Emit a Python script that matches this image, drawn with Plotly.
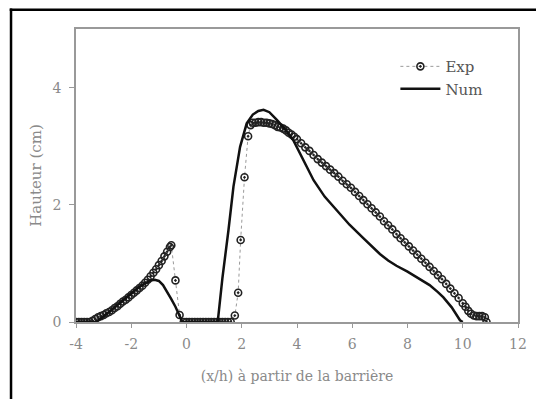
import plotly.graph_objects as go

# Experimental data (Exp)
exp_x = [-4.0, -3.9, -3.8, -3.7, -3.6, -3.5, -3.4, -3.3, -3.2, -3.1, -3.0, -2.9, -2.8, -2.7,
         -2.6, -2.5, -2.4, -2.3, -2.2, -2.1, -2.0, -1.9, -1.8, -1.7, -1.6, -1.5, -1.4, -1.3,
         -1.2, -1.1, -1.0, -0.9, -0.8, -0.7, -0.6, -0.55, -0.4, -0.25, -0.1,
         0.0, 0.1, 0.2, 0.3, 0.4, 0.5, 0.6, 0.7, 0.8, 0.9, 1.0, 1.1, 1.2, 1.3, 1.4, 1.5, 1.6,
         1.75, 1.87, 1.96, 2.1, 2.23, 2.32, 2.4, 2.5, 2.6, 2.7, 2.8, 2.9, 3.0, 3.1, 3.2, 3.3,
         3.4, 3.5, 3.6, 3.7, 3.8, 3.9, 4.0, 4.15, 4.3, 4.45, 4.6, 4.75, 4.9, 5.05, 5.2, 5.35,
         5.5, 5.65, 5.8, 5.95, 6.1, 6.25, 6.4, 6.55, 6.7, 6.85, 7.0, 7.15, 7.3, 7.45, 7.6,
         7.75, 7.9, 8.05, 8.2, 8.35, 8.5, 8.65, 8.8, 8.95, 9.1, 9.25, 9.4, 9.55, 9.7, 9.85,
         10.0, 10.1, 10.2, 10.3, 10.4, 10.5, 10.6, 10.7, 10.8, 10.86]
exp_y = [0, 0, 0, 0, 0, 0, 0.02, 0.05, 0.08, 0.1, 0.12, 0.15, 0.17, 0.2,
         0.24, 0.27, 0.31, 0.35, 0.38, 0.42, 0.46, 0.5, 0.54, 0.58, 0.62, 0.67, 0.72, 0.78,
         0.84, 0.9, 0.97, 1.04, 1.12, 1.2, 1.28, 1.31, 0.71, 0.12, 0,
         0, 0, 0, 0, 0, 0, 0, 0, 0, 0, 0, 0, 0, 0, 0, 0, 0,
         0.11, 0.5, 1.4, 2.47, 3.17, 3.36, 3.4, 3.4, 3.41, 3.41, 3.4, 3.4, 3.39, 3.38, 3.36, 3.33,
         3.32, 3.3, 3.27, 3.23, 3.2, 3.16, 3.12, 3.05, 2.98, 2.92, 2.85, 2.78, 2.72, 2.66, 2.6, 2.54,
         2.48, 2.41, 2.35, 2.29, 2.22, 2.15, 2.08, 2.01, 1.94, 1.87, 1.8, 1.72, 1.65, 1.58, 1.5,
         1.43, 1.36, 1.29, 1.22, 1.15, 1.08, 1.01, 0.94, 0.87, 0.8, 0.73, 0.65, 0.57, 0.49, 0.41,
         0.32, 0.26, 0.19, 0.14, 0.11, 0.1, 0.1, 0.1, 0.08, 0]

# Numerical data (Num)
num_x = [-4.0, -3.3, -3.1, -2.9, -2.7, -2.5, -2.3, -2.1, -1.9, -1.7, -1.5, -1.3, -1.15, -1.0,
         -0.85, -0.7, -0.55, -0.4, -0.25, -0.15, 1.13, 1.3, 1.52, 1.7, 1.94, 2.18, 2.4, 2.6,
         2.79, 3.0, 3.27, 3.55, 3.87, 4.2, 4.6, 5.0, 5.45, 5.9, 6.4, 6.7, 7.0, 7.3, 7.6, 8.0,
         8.4, 8.8, 9.1, 9.3, 9.6, 9.9, 10.0]
num_y = [0, 0, 0.06, 0.13, 0.21, 0.29, 0.37, 0.45, 0.53, 0.6, 0.66, 0.71, 0.72, 0.7,
         0.63, 0.52, 0.39, 0.26, 0.12, 0, 0, 0.75, 1.57, 2.31, 2.99, 3.39, 3.54, 3.6,
         3.62, 3.58, 3.45, 3.3, 3.1, 2.78, 2.42, 2.14, 1.9, 1.66, 1.43, 1.29, 1.16, 1.05, 0.96, 0.86,
         0.75, 0.63, 0.51, 0.42, 0.25, 0.03, 0]

x_ticks = [-4, -2, 0, 2, 4, 6, 8, 10, 12]
y_ticks = [0, 2, 4]

FONT = "DejaVu Serif"
GRAY = "#8a8a8a"

fig = go.Figure()
fig.add_trace(go.Scatter(
    x=exp_x, y=exp_y, name="Exp", mode="lines+markers",
    line=dict(color="#9a9a9a", width=1, dash="dot"),
    marker=dict(symbol="circle-open-dot", size=7, color="#222222", line=dict(width=1.6, color="#222222")),
))
fig.add_trace(go.Scatter(
    x=num_x, y=num_y, name="Num", mode="lines",
    line=dict(color="#111111", width=2.5),
))

# page body adds an 8px offset, so the figure is 16px smaller and margins shifted
fig.update_layout(
    width=528, height=391,
    margin=dict(l=68, r=18, t=21, b=77),
    paper_bgcolor="white", plot_bgcolor="white",
    font=dict(family=FONT, size=14, color=GRAY),
    showlegend=True,
    legend=dict(x=0.7226, y=0.928, xanchor="left", yanchor="top",
                bgcolor="rgba(0,0,0,0)", font=dict(family=FONT, size=15, color="#555555"),
                tracegroupgap=0, itemwidth=40),
    xaxis=dict(range=[-4, 12], tickvals=x_ticks, ticktext=[str(v) for v in x_ticks],
               automargin=False,
               showgrid=False, zeroline=False, showline=True, linecolor="#999999", linewidth=1.5,
               mirror=True, ticks="outside", ticklen=4, tickcolor="#999999",
               ticklabelstandoff=4,
               tickfont=dict(family=FONT, size=14, color=GRAY),
               title=dict(text="(x/h) à partir de la barrière", font=dict(family=FONT, size=14, color=GRAY),
                          standoff=21)),
    yaxis=dict(range=[0, 5], tickvals=y_ticks, ticktext=[str(v) for v in y_ticks],
               automargin=False,
               showgrid=False, zeroline=False, showline=True, linecolor="#999999", linewidth=1.5,
               mirror=True, ticks="outside", ticklen=5, tickcolor="#999999",
               ticklabelstandoff=5,
               tickfont=dict(family=FONT, size=14, color=GRAY),
               title=dict(text="Hauteur (cm)", font=dict(family=FONT, size=15, color=GRAY),
                          standoff=7)),
    shapes=[
        dict(type="line", xref="paper", yref="paper", x0=-0.147, x1=-0.147, y0=1.07, y1=-0.35,
             line=dict(color="black", width=2.5)),
        dict(type="line", xref="paper", yref="paper", x0=-0.15, x1=1.1, y0=1.066, y1=1.066,
             line=dict(color="black", width=2.5)),
    ],
)

fig.write_html("out.html")
